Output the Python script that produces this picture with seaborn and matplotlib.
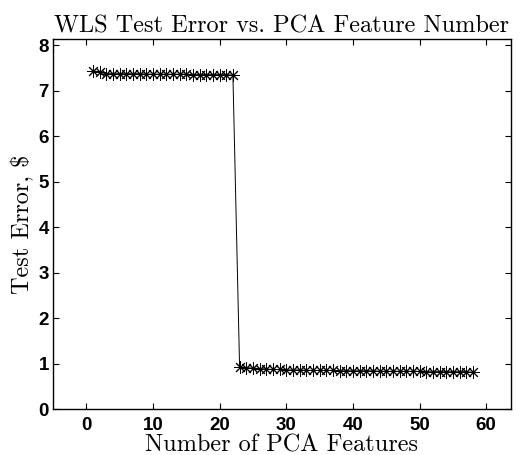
import numpy as np
import pandas as pd
import matplotlib
matplotlib.use("Agg")
import matplotlib.pyplot as plt
import seaborn as sns

# --------------------------------------------------
# Data
# --------------------------------------------------
n_features = list(range(1, 59))

err_high = [7.42, 7.40, 7.37, 7.37, 7.37, 7.37, 7.37, 7.37, 7.36, 7.36,
            7.36, 7.36, 7.36, 7.36, 7.36, 7.35, 7.35, 7.35, 7.35, 7.35,
            7.35, 7.34]
err_low = [0.93, 0.91, 0.90, 0.89, 0.88, 0.87, 0.87, 0.86, 0.86, 0.86,
           0.85, 0.85, 0.85, 0.85, 0.85, 0.84, 0.84, 0.84, 0.84, 0.84,
           0.84, 0.83, 0.83, 0.83, 0.83, 0.83, 0.83, 0.83, 0.82, 0.82,
           0.82, 0.82, 0.82, 0.82, 0.82, 0.81]
test_error = err_high + err_low

df = pd.DataFrame({"features": n_features, "error": test_error})

# --------------------------------------------------
# Style
# --------------------------------------------------
sns.set_style("ticks", {
    "xtick.direction": "in",
    "ytick.direction": "in",
    "xtick.top": True,
    "ytick.right": True,
    "text.color": "black",
    "xtick.color": "black",
    "ytick.color": "black",
    "axes.labelcolor": "black",
})
plt.rcParams["axes.unicode_minus"] = False

fig = plt.figure(figsize=(5.24, 4.55), dpi=100)
ax = fig.add_axes([0.101, 0.101, 0.874, 0.813])

sns.lineplot(data=df, x="features", y="error", ax=ax,
             color="black", linewidth=0.7,
             marker=(8, 2, 0), markersize=9, markeredgewidth=0.7,
             markeredgecolor="black")

ax.set_xlim(-5, 63.7)
ax.set_ylim(0, 8.13)
ax.set_xticks([0, 10, 20, 30, 40, 50, 60])
ax.set_yticks(range(0, 9))

for lab in ax.get_xticklabels() + ax.get_yticklabels():
    lab.set_family(["Liberation Sans", "DejaVu Sans"])
    lab.set_fontweight("bold")
    lab.set_fontsize(13.5)
    lab.set_color("black")
ax.tick_params(length=4, width=0.8, pad=3, colors="black")
ax.tick_params(axis="x", pad=6)

for sp in ax.spines.values():
    sp.set_linewidth(1.0)
    sp.set_color("black")

serif = ["cmr10", "DejaVu Serif"]
ax.set_title("WLS Test Error vs. PCA Feature Number",
             family=serif, fontsize=17.5, pad=5, color="black")
ax.set_xlabel("Number of PCA Features", family=serif, fontsize=17.5,
              labelpad=0, color="black")
ax.set_ylabel("Test Error, $", family=serif, fontsize=17.5, labelpad=3,
              color="black")

fig.savefig("out.png", dpi=100)
